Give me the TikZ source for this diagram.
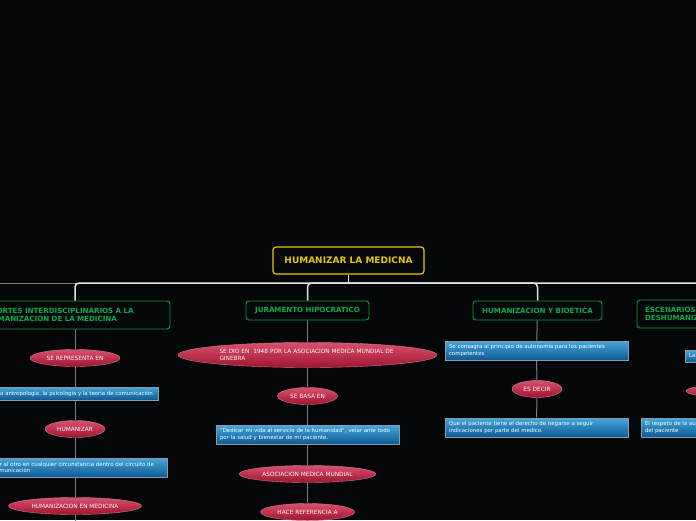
\documentclass[tikz,border=0pt]{standalone}
\usepackage{fontspec}
\setmainfont{DejaVu Sans}
\usetikzlibrary{shapes.geometric,backgrounds}
\definecolor{bgc}{HTML}{050608}
\definecolor{rootc}{HTML}{E6C800}
\definecolor{greenc}{HTML}{00A040}
\definecolor{greent}{HTML}{00B050}
\definecolor{elltop}{HTML}{D9506E}
\definecolor{ellbot}{HTML}{A0142E}
\definecolor{elldraw}{HTML}{C87A8A}
\definecolor{bluetop}{HTML}{45A6DE}
\definecolor{bluebot}{HTML}{0E5A92}
\definecolor{bluedraw}{HTML}{8A9AAA}
\definecolor{linew}{HTML}{E4E4E4}
\definecolor{lineg}{HTML}{7C7C7C}
\tikzset{
  rootbox/.style={draw=rootc, line width=1.2pt, rounded corners=3pt, fill=bgc,
    text=rootc, font=\fontsize{9}{11}\selectfont\bfseries, inner sep=0pt,
    minimum width=151pt, minimum height=27pt},
  greenbox/.style={draw=greenc, line width=0.9pt, rounded corners=3pt, fill=bgc,
    text=greent, font=\fontsize{7.1}{8.6}\selectfont\bfseries, inner sep=0pt},
  ovalnode/.style={ellipse, draw=elldraw, line width=0.4pt, top color=elltop,
    bottom color=ellbot, text=white!90!pink, font=\fontsize{5.8}{7}\selectfont,
    inner sep=0pt},
  bluebox/.style={draw=bluedraw, line width=0.6pt, top color=bluetop,
    bottom color=bluebot, text=white, font=\fontsize{5.4}{6.6}\selectfont,
    inner sep=0pt, align=left},
  rootline/.style={draw=linew, line width=1.5pt},
  colline/.style={draw=lineg, line width=1pt}
}
\begin{document}
\begin{tikzpicture}[x=1pt,y=-1pt]
\useasboundingbox (0,0) rectangle (696,520);
% root
\node[rootbox] (root) at (348.5,260.5) {HUMANIZAR LA MEDICNA};
% level-1 boxes
\node[greenbox, minimum width=190pt, minimum height=28pt, text width=178pt, align=left] (c1) at (75,315)
  {APORTES INTERDISCIPLINARIOS A LA\\HUMANIZACION DE LA MEDICINA};
\node[greenbox, minimum width=123pt, minimum height=19pt] (c2) at (307.5,310.5) {JURAMENTO HIPOCRATICO};
\node[greenbox, minimum width=129pt, minimum height=19pt] (c3) at (537.5,310.5) {HUMANIZACION Y BIOETICA};
\node[greenbox, minimum width=258pt, minimum height=28pt, text width=242pt, align=left] (c4) at (766,314)
  {ESCENARIOS DE\\DESHUMANIZACION};
% column 1
\node[ovalnode, minimum width=90pt, minimum height=17pt] (e1) at (75,358) {SE REPRESENTA EN};
\node[bluebox, minimum width=166pt, minimum height=13pt, align=center] (b1) at (75,393.5)
  {La antropologia, la psicologia y la teoria de comunicación};
\node[ovalnode, minimum width=60pt, minimum height=17pt] (e2) at (75,429) {HUMANIZAR};
\node[bluebox, minimum width=184pt, minimum height=19pt, text width=164pt] (b2) at (75,467.5)
  {Ver al otro en cualquier circunstancia dentro del circuito de\\comunicación};
\node[ovalnode, minimum width=133pt, minimum height=17pt] (e3) at (75,506) {HUMANIZACION EN MEDICINA};
\coordinate (bot1) at (75,521);
% column 2
\node[ovalnode, minimum width=259pt, minimum height=25pt, text width=176pt, align=left] (e4) at (307.5,355)
  {SE DIO EN\ \ 1948 POR LA ASOCIACION MEDICA MUNDIAL DE\\GINEBRA};
\node[ovalnode, minimum width=60pt, minimum height=17pt] (e5) at (307.5,396) {SE BASA EN};
\node[bluebox, minimum width=183pt, minimum height=19pt, text width=175pt] (b3) at (307.5,434.5)
  {"Dedicar mi vida al servicio de la humanidad", velar ante todo\\por la salud y bienestar de mi paciente.};
\node[ovalnode, minimum width=137pt, minimum height=17pt] (e6) at (307.5,474) {ASOCIACION MEDICA MUNDIAL};
\node[ovalnode, minimum width=94pt, minimum height=17pt] (e7) at (307.5,512) {HACE REFERENCIA A};
% column 3
\node[bluebox, minimum width=183pt, minimum height=19pt, text width=175pt] (b4) at (536.5,350.5)
  {Se consagra al principio de autonomía para los pacientes\\competentes};
\node[ovalnode, minimum width=50pt, minimum height=17pt] (e8) at (537,389) {ES DECIR};
\node[bluebox, minimum width=183pt, minimum height=19pt, text width=175pt] (b5) at (536.5,427.5)
  {Que el paciente tiene el derecho de negarse a seguir\\indicaciones por parte del medico.};
% column 4
\node[bluebox, minimum width=162pt, minimum height=12pt, text width=154pt] (b6) at (766,356) {La};
\node[ovalnode, minimum width=160pt, minimum height=17pt] (e9) at (766,391) {};
\node[bluebox, minimum width=250pt, minimum height=19pt, text width=242pt] (b7) at (766,427.5)
  {El respeto de la autonomía\\del paciente};
% connectors
\coordinate (hub) at (348.5,283);
\coordinate (farleft) at (0,283);
\begin{scope}[on background layer]
  \fill[bgc] (0,0) rectangle (696,520);
  \draw[colline] (hub) -- (farleft);
  \draw[rootline] (root.south) -- (hub);
  \draw[rootline, rounded corners=4pt] (hub) -| (c1.north);
  \draw[rootline, rounded corners=4pt] (hub) -| (c2.north);
  \draw[rootline, rounded corners=4pt] (hub) -| (c3.north);
  \draw[rootline, rounded corners=4pt] (hub) -| (c4.north);
  \draw[colline] (c1) -- (e1) -- (b1) -- (e2) -- (b2) -- (e3) -- (bot1);
  \draw[colline] (c2) -- (e4) -- (e5) -- (b3) -- (e6) -- (e7);
  \draw[colline] (c3) -- (b4) -- (e8) -- (b5);
  \draw[colline] (c4) -- (b6) -- (e9) -- (b7);
\end{scope}
\end{tikzpicture}
\end{document}
